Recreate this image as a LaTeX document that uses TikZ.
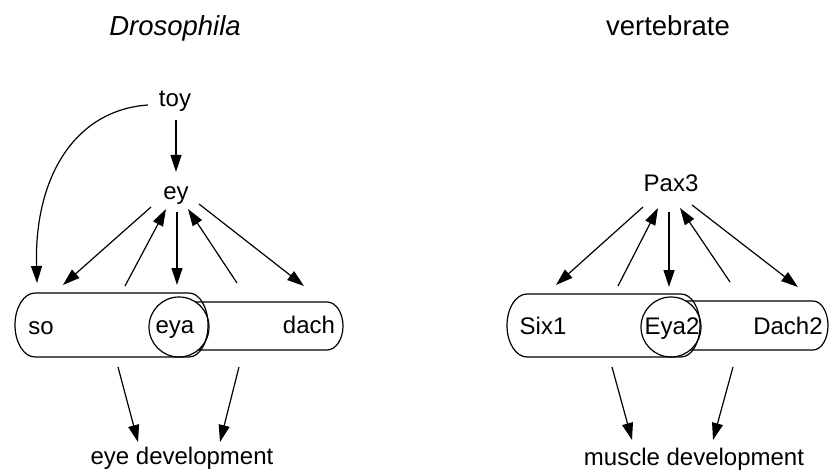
\documentclass[tikz,border=0pt]{standalone}
\usepackage{fontspec}
\setmainfont{Liberation Sans}
\usetikzlibrary{arrows.meta}

\tikzset{
  label/.style={inner sep=0pt, anchor=base, font=\fontsize{24}{28}\selectfont},
  title/.style={inner sep=0pt, anchor=base, font=\fontsize{27.5}{32}\selectfont},
  link/.style={line width=1.2pt, -{Triangle[length=17pt,width=11pt]}},
  outline/.style={line width=1.2pt},
}

\begin{document}
\begin{tikzpicture}[x=1pt, y=-1pt]
\useasboundingbox (0,0) rectangle (829,470);

% ---------------- Drosophila ----------------
\node[title] (dtitle) at (175,36) {\itshape Drosophila};
\node[label] (toy) at (175,107) {toy};
\node[label] (ey) at (176,200) {ey};

% complex outlines: eya--dach capsule behind, eya ring cleared, so--eya capsule on top
\draw[outline] (179,302) -- (327,302) arc[start angle=-90, end angle=90, x radius=16, y radius=24] -- (179,350);
\fill[white] (179,327) circle[radius=30];
\draw[outline] (35,293) -- (189,293) arc[start angle=-90, end angle=90, x radius=19, y radius=32]
  -- (35,357) arc[start angle=90, end angle=270, x radius=20, y radius=32] -- cycle;
\draw[outline] (179,327) circle[radius=30];

\node[label] (so) at (41,334) {so};
\node[label] (eya) at (175,333) {eya};
\node[label] (dach) at (309,333) {dach};
\node[label] (eyedev) at (182,464) {eye development};

% arrow end points
\coordinate (toyS) at (176,120);
\coordinate (eyN)  at (176,172);
\coordinate (toyW) at (148,105);
\coordinate (soN)  at (37,283);
\coordinate (eyA) at (151,207);  \coordinate (soT)  at (63,285);
\coordinate (soU) at (125,286);  \coordinate (eyB)  at (166,209);
\coordinate (eyC) at (177,212);  \coordinate (eyaT) at (177,285);
\coordinate (daU) at (237,283);  \coordinate (eyD)  at (188,209);
\coordinate (eyE) at (199,204);  \coordinate (daT)  at (304,286);
\coordinate (soD) at (118,367);  \coordinate (devA) at (138,442);
\coordinate (daD) at (239,367);  \coordinate (devB) at (220,442);

\draw[link] (toyS) -- (eyN);
\draw[link] (toyW) .. controls (75,110) and (34,177) .. (soN);
\draw[link] (eyA) -- (soT);
\draw[link] (soU) -- (eyB);
\draw[link] (eyC) -- (eyaT);
\draw[link] (daU) -- (eyD);
\draw[link] (eyE) -- (daT);
\draw[link] (soD) -- (devA);
\draw[link] (daD) -- (devB);

% ---------------- vertebrate ----------------
\node[title] (vtitle) at (668,36) {vertebrate};
\node[label] (pax) at (671,192) {Pax3};

\draw[outline] (671,301) -- (813,301) arc[start angle=-90, end angle=90, x radius=15, y radius=24.5] -- (671,350);
\fill[white] (671,327) circle[radius=30];
\draw[outline] (527,294) -- (681,294) arc[start angle=-90, end angle=90, x radius=19, y radius=31.5]
  -- (527,357) arc[start angle=90, end angle=270, x radius=20, y radius=31.5] -- cycle;
\draw[outline] (671,327) circle[radius=30];

\node[label] (six) at (543,334) {Six1};
\node[label] (eyatwo) at (672,334) {Eya2};
\node[label] (dachtwo) at (788,334) {Dach2};
\node[label] (musdev) at (694,465) {muscle development};

\coordinate (pxA) at (643,207);  \coordinate (sixT) at (556,285);
\coordinate (sxU) at (618,286);  \coordinate (pxB)  at (658,208);
\coordinate (pxC) at (669,212);  \coordinate (e2T)  at (669,287);
\coordinate (dxU) at (730,282);  \coordinate (pxD)  at (680,208);
\coordinate (pxE) at (692,205);  \coordinate (d2T)  at (798,287);
\coordinate (sxD) at (612,367);  \coordinate (mdA)  at (632,440);
\coordinate (dxD) at (733,367);  \coordinate (mdB)  at (713,440);

\draw[link] (pxA) -- (sixT);
\draw[link] (sxU) -- (pxB);
\draw[link] (pxC) -- (e2T);
\draw[link] (dxU) -- (pxD);
\draw[link] (pxE) -- (d2T);
\draw[link] (sxD) -- (mdA);
\draw[link] (dxD) -- (mdB);
\end{tikzpicture}
\end{document}
